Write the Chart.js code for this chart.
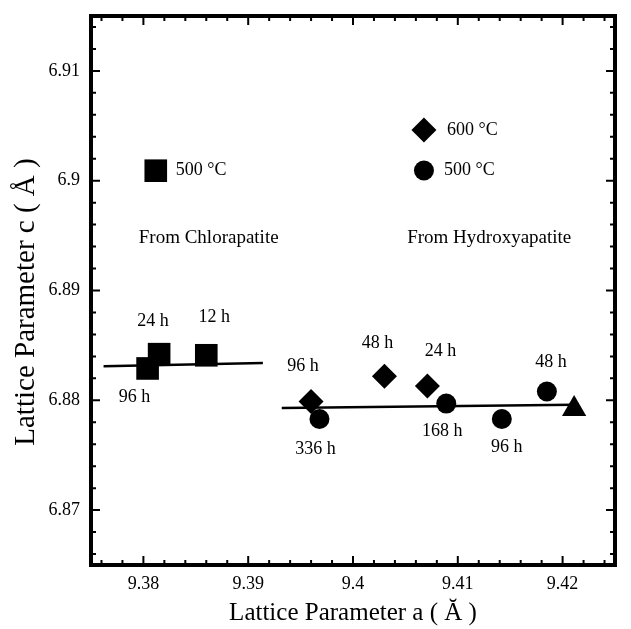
<!DOCTYPE html>
<html>
<head>
<meta charset="utf-8">
<script src="https://cdn.jsdelivr.net/npm/chart.js@4/dist/chart.umd.min.js"></script>
<style>
  html, body { margin: 0; padding: 0; background: #fff; }
  #wrap { width: 631px; height: 629px; }
</style>
</head>
<body>
<div id="wrap"><canvas id="latticeChart" width="631" height="629"></canvas></div>
<script>
// Gitterparameter a / c (Angström)
const chlorA = [9.3804, 9.3815, 9.3860];
const chlorC = [6.8829, 6.8842, 6.8841];
const chlorHours = ['96 h', '24 h', '12 h'];

const hydro600A = [9.3960, 9.4030, 9.4071];
const hydro600C = [6.8799, 6.8822, 6.8813];
const hydro600Hours = ['96 h', '48 h', '24 h'];

const hydro500A = [9.3968, 9.4089, 9.4142, 9.4185];
const hydro500C = [6.8783, 6.8797, 6.8783, 6.8808];
const hydro500Hours = ['336 h', '168 h', '96 h', '48 h'];

const otherA = [9.4211];
const otherC = [6.8792];

// Ausgleichsgeraden (Endpunkte)
const chlorFitA = [9.3762, 9.3914];
const chlorFitC = [6.8831, 6.8834];
const hydroFitA = [9.3932, 9.4210];
const hydroFitC = [6.8793, 6.8796];

const xTicks = [9.38, 9.39, 9.4, 9.41, 9.42];
const yTicks = [6.87, 6.88, 6.89, 6.9, 6.91];

const serif = '"Liberation Serif", "DejaVu Serif", serif';

function pts(xs, ys) {
    return xs.map((v, i) => ({ x: v, y: ys[i] }));
}

// Beschriftungen der Punkte: Pixel-Versatz zum Punkt
const labelOffsets = {
    0: [[-13, 29], [-6, -33], [8, -38]],
    1: [[-8, -35], [-7, -33], [13, -35]],
    2: [[-4, 30], [-4, 28], [5, 28], [4, -29]]
};
const pointLabels = { 0: chlorHours, 1: hydro600Hours, 2: hydro500Hours };

const decorPlugin = {
    id: 'decor',
    afterDatasetsDraw(chart) {
        const { ctx, chartArea: a, scales: { x, y } } = chart;
        ctx.save();
        ctx.fillStyle = '#000';
        ctx.strokeStyle = '#000';

        // Ticks nach innen, alle vier Seiten
        ctx.lineWidth = 2;
        ctx.beginPath();
        for (let k = Math.ceil(x.min / 0.002 - 1e-6); k <= Math.floor(x.max / 0.002 + 1e-6); k++) {
            const px = x.getPixelForValue(k * 0.002);
            const len = k % 5 === 0 ? 9 : 5;
            ctx.moveTo(px, a.bottom); ctx.lineTo(px, a.bottom - len);
            ctx.moveTo(px, a.top); ctx.lineTo(px, a.top + len);
        }
        for (let k = Math.ceil(y.min / 0.002 - 1e-6); k <= Math.floor(y.max / 0.002 + 1e-6); k++) {
            const py = y.getPixelForValue(k * 0.002);
            const len = k % 5 === 0 ? 9 : 5;
            ctx.moveTo(a.left, py); ctx.lineTo(a.left + len, py);
            ctx.moveTo(a.right, py); ctx.lineTo(a.right - len, py);
        }
        ctx.stroke();

        // Rahmen
        ctx.lineWidth = 4;
        ctx.strokeRect(a.left, a.top, a.right - a.left, a.bottom - a.top);

        // Stunden-Beschriftungen
        ctx.font = '18px ' + serif;
        ctx.textAlign = 'center';
        ctx.textBaseline = 'middle';
        Object.keys(pointLabels).forEach(di => {
            const meta = chart.getDatasetMeta(+di);
            meta.data.forEach((el, i) => {
                const off = labelOffsets[di][i];
                ctx.fillText(pointLabels[di][i], el.x + off[0], el.y + off[1]);
            });
        });

        // Legenden-Symbole
        const drawPoint = Chart.helpers.drawPoint;
        const legend = [
            { style: 'rectRot', r: 12.5, x: 9.40677, y: 6.90462, text: '600 °C', dx: 23 },
            { style: 'circle', r: 10, x: 9.40677, y: 6.90093, text: '500 °C', dx: 20 },
            { style: 'rect', r: 16, x: 9.38118, y: 6.90091, text: '500 °C', dx: 20 }
        ];
        legend.forEach(l => {
            const px = x.getPixelForValue(l.x);
            const py = y.getPixelForValue(l.y);
            drawPoint(ctx, { pointStyle: l.style, radius: l.r, rotation: 0, borderWidth: 0 }, px, py);
            ctx.textAlign = 'left';
            ctx.fillText(l.text, px + l.dx, py);
        });

        ctx.font = '19px ' + serif;
        ctx.textAlign = 'center';
        ctx.fillText('From Chlorapatite', x.getPixelForValue(9.38623), y.getPixelForValue(6.89477));
        ctx.fillText('From Hydroxyapatite', x.getPixelForValue(9.4130), y.getPixelForValue(6.89477));

        // y-Achsentitel
        ctx.font = '29px ' + serif;
        ctx.translate(26.5, 302);
        ctx.rotate(-Math.PI / 2);
        ctx.fillText('Lattice Parameter c ( Å )', 0, 0);
        ctx.restore();
    }
};

const pointDefaults = { backgroundColor: '#000', borderWidth: 0, showLine: false };

const config = {
    type: 'scatter',
    data: {
        datasets: [
            { ...pointDefaults, label: 'Chlorapatite 500 °C', data: pts(chlorA, chlorC), pointStyle: 'rect', pointRadius: 16 },
            { ...pointDefaults, label: 'Hydroxyapatite 600 °C', data: pts(hydro600A, hydro600C), pointStyle: 'rectRot', pointRadius: 12.5 },
            { ...pointDefaults, label: 'Hydroxyapatite 500 °C', data: pts(hydro500A, hydro500C), pointStyle: 'circle', pointRadius: 10 },
            { ...pointDefaults, label: 'other', data: pts(otherA, otherC), pointStyle: 'triangle', pointRadius: 14 },
            { label: 'fit chlor', data: pts(chlorFitA, chlorFitC), showLine: true, pointRadius: 0, borderColor: '#000', borderWidth: 2.5 },
            { label: 'fit hydro', data: pts(hydroFitA, hydroFitC), showLine: true, pointRadius: 0, borderColor: '#000', borderWidth: 2.5 }
        ]
    },
    options: {
        responsive: false,
        animation: false,
        devicePixelRatio: 1,
        layout: { padding: { top: 14, right: 3, left: 0, bottom: 0 } },
        plugins: { legend: { display: false }, tooltip: { enabled: false } },
        scales: {
            x: {
                type: 'linear',
                min: 9.375,
                max: 9.425,
                grid: { display: false, drawTicks: false },
                border: { display: false },
                afterBuildTicks: s => { s.ticks = xTicks.map(v => ({ value: v })); },
                afterFit: s => { s.height = 64; s.paddingLeft = 0; s.paddingRight = 0; },
                ticks: {
                    autoSkip: false,
                    maxRotation: 0,
                    padding: 8,
                    color: '#000',
                    font: { family: serif, size: 18 },
                    callback: v => String(v)
                },
                title: {
                    display: true,
                    text: 'Lattice Parameter a ( Ă )',
                    color: '#000',
                    font: { family: serif, size: 25 },
                    padding: { top: 0, bottom: 1 }
                }
            },
            y: {
                type: 'linear',
                min: 6.865,
                max: 6.915,
                grid: { display: false, drawTicks: false },
                border: { display: false },
                afterBuildTicks: s => { s.ticks = yTicks.map(v => ({ value: v })); },
                afterFit: s => { s.width = 91; s.paddingTop = 0; s.paddingBottom = 0; },
                ticks: {
                    autoSkip: false,
                    padding: 11,
                    color: '#000',
                    font: { family: serif, size: 18 },
                    callback: v => String(v)
                }
            }
        }
    },
    plugins: [decorPlugin]
};

new Chart(document.getElementById('latticeChart'), config);
</script>
</body>
</html>
